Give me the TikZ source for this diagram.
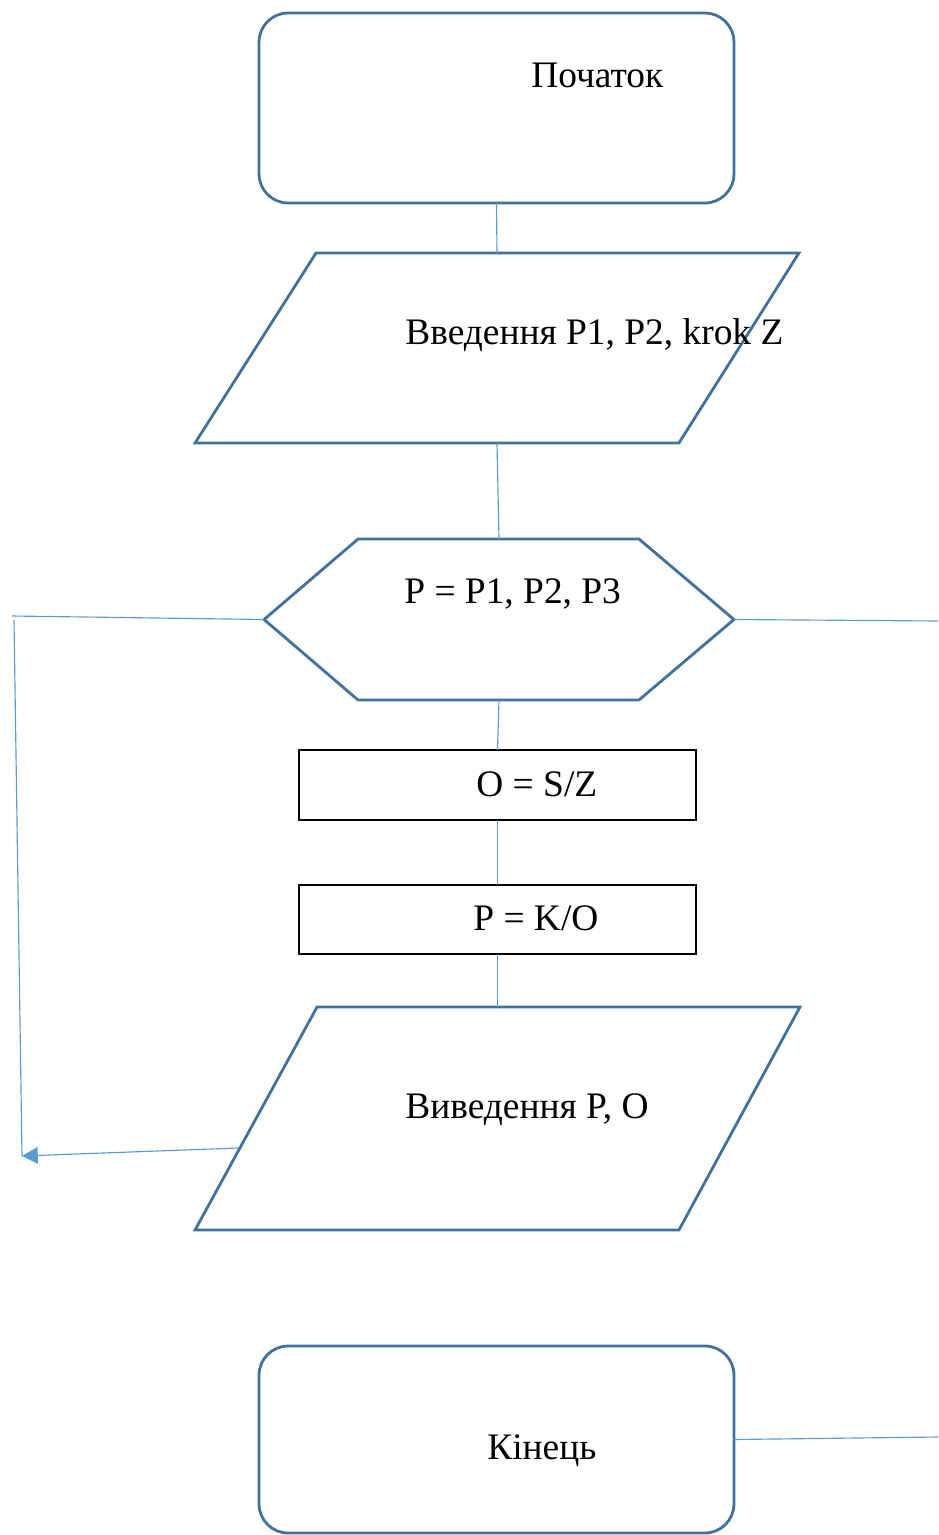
\documentclass[tikz,border=0pt]{standalone}
\usepackage{fontspec}
\setmainfont{Liberation Serif}
\usetikzlibrary{arrows.meta}
\definecolor{shapeblue}{HTML}{41719C}
\definecolor{linkblue}{HTML}{5B9BD5}
\begin{document}
\begin{tikzpicture}[x=0.02cm,y=-0.02cm,
  frame/.style={inner sep=0pt, outer sep=0pt},
  outline/.style={draw=shapeblue, line width=1.6pt, line join=miter},
  terminal/.style={frame, outline, rounded corners=0.58cm},
  process/.style={frame, draw=black, line width=1.6pt, minimum width=7.94cm},
  link/.style={draw=linkblue, line width=0.65pt},
  txt/.style={anchor=base west, inner sep=0pt, font=\fontsize{21.3}{26}\selectfont}]
\useasboundingbox (0,0) rectangle (938,1535);

% terminals
\node[terminal, minimum width=9.5cm, minimum height=3.8cm] (start) at (496.5,108) {};
\node[terminal, minimum width=9.5cm, minimum height=3.74cm] (end) at (496.5,1439.5) {};

% input parallelogram
\node[frame, minimum width=12.08cm, minimum height=3.8cm] (in) at (497,348) {};
\draw[outline] ([xshift=2.42cm]in.north west) -- (in.north east)
  -- ([xshift=-2.4cm]in.south east) -- (in.south west) -- cycle;

% loop hexagon
\node[frame, minimum width=9.4cm, minimum height=3.22cm] (hex) at (499,619.5) {};
\draw[outline] (hex.west) -- ([xshift=1.88cm]hex.north west)
  -- ([xshift=-1.9cm]hex.north east) -- (hex.east)
  -- ([xshift=-1.9cm]hex.south east) -- ([xshift=1.88cm]hex.south west) -- cycle;

% process boxes
\node[process, minimum height=1.4cm] (calcO) at (497.5,785) {};
\node[process, minimum height=1.38cm] (calcP) at (497.5,919.5) {};

% output parallelogram
\node[frame, minimum width=12.1cm, minimum height=4.46cm] (out) at (497.5,1118.5) {};
\draw[outline] ([xshift=2.44cm]out.north west) -- (out.north east)
  -- ([xshift=-2.42cm]out.south east) -- (out.south west) -- cycle;

% labels
\node[txt] (startText) at (531,87) {Початок};
\node[txt] (inText) at (405,344) {Введення P1, P2, krok Z};
\node[txt] (hexText) at (404,603) {P = P1, P2, P3};
\node[txt] (calcOText) at (476,796) {O = S/Z};
\node[txt] (calcPText) at (473,930) {P = K/O};
\node[txt] (outText) at (405,1118) {Виведення P, O};
\node[txt] (endText) at (487,1459) {Кінець};

% free ends of connectors
\coordinate (loopTop) at (12,616);
\coordinate (loopA) at (14,620);
\coordinate (loopB) at (22,1156);
\coordinate (outL) at (238,1148);
\coordinate (hexR) at (938,621);
\coordinate (endR) at (938,1437);

% connectors
\draw[link] (start.south) -- (in.north);
\draw[link] (in.south) -- (hex.north);
\draw[link] (hex.south) -- (calcO.north);
\draw[link] (calcO.south) -- (calcP.north);
\draw[link] (calcP.south) -- (out.north);
\draw[link] (hex.west) -- (loopTop);
\draw[link] (loopA) -- (loopB);
\draw[link, -{Triangle[length=9pt, width=9.5pt]}] (outL) -- (loopB);
\draw[link] (hex.east) -- (hexR);
\draw[link] (end.east) -- (endR);
\end{tikzpicture}
\end{document}
